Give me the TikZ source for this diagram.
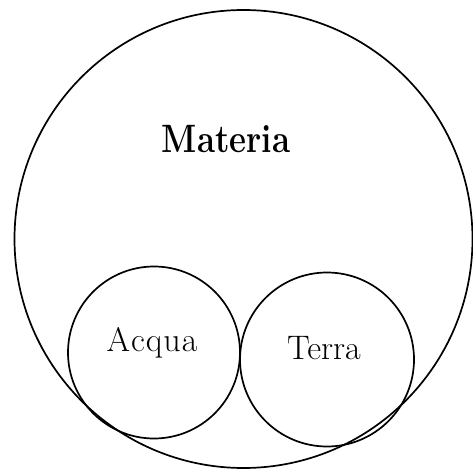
\documentclass[tikz,border=0pt]{standalone}
\usepackage{graphicx}
\usepackage{tikz}
\tikzset{ring/.style={draw,circle,inner sep=0pt,line width=1.7pt},
  word/.style={inner sep=0pt}}
\begin{document}
\begin{tikzpicture}[x=1pt,y=-1pt]
\useasboundingbox (0,0) rectangle (473,470);
\node[ring,minimum size=458pt] (materia) at (243.5,239) {};
\node[ring,minimum size=172pt] (acqua) at (154,352.5) {};
\node[ring,minimum size=174pt] (terra) at (327,359.5) {};
\node[word] (lmateria) at (226,139) {\scalebox{1}[1.2]{\fontsize{33}{36}\selectfont\bfseries Materia}};
\node[word] (lacqua) at (152,343) {\fontsize{34}{38}\selectfont A\kern1pt c\kern1pt q\kern1pt u\kern1pt a};
\node[word] (lterra) at (324,348) {\fontsize{34}{38}\selectfont Terra};
\end{tikzpicture}
\end{document}
